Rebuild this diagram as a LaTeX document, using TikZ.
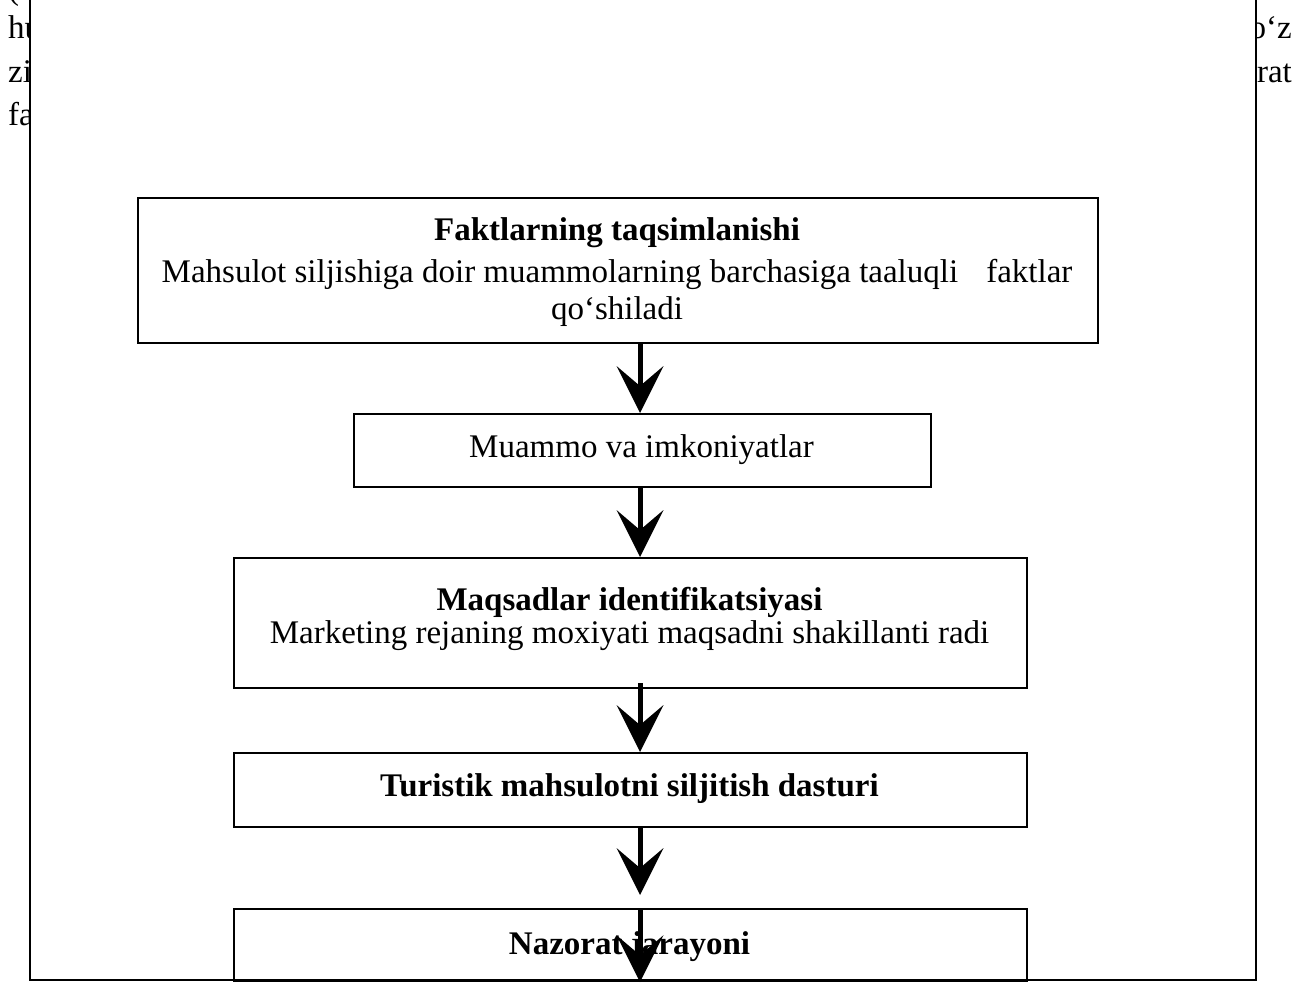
\documentclass[tikz,border=0pt]{standalone}
\usepackage{fontspec}
\setmainfont{Liberation Serif}
\usetikzlibrary{arrows.meta}
\begin{document}
\begin{tikzpicture}[x=1pt,y=-1pt,
  txt/.style={font=\fontsize{33}{38}\selectfont, inner sep=0pt, anchor=base},
  bold/.style={txt, font=\fontsize{33}{38}\selectfont\bfseries},
  stepbox/.style={draw, line width=2.2pt, inner sep=0pt, anchor=north west},
  flow/.style={line width=5pt,
    -{Stealth[length=47pt,width=47pt,inset=20pt,line width=0pt]}}]

\useasboundingbox (0,0) rectangle (1308,982);
\clip (0,0) rectangle (1308,982);

% running page text showing at both sides of the frame
\node[txt, anchor=base west] (p0) at (8,0) {(};
\node[txt, anchor=base west] (p1) at (8,39) {hu};
\node[txt, anchor=base west] (p2) at (8,82) {zi};
\node[txt, anchor=base west] (p3) at (8,125) {fa};
\node[txt, anchor=base east] (q1) at (1292,39) {o‘z};
\node[txt, anchor=base east] (q2) at (1292,82) {rat};

% white frame of the figure
\draw[line width=2.2pt, fill=white] (30,-20) rectangle (1256,980);

% boxes
\node[stepbox, minimum width=960pt, minimum height=145pt] (b1) at (137,197) {};
\node[stepbox, minimum width=577pt, minimum height=73pt]  (b2) at (353,413) {};
\node[stepbox, minimum width=793pt, minimum height=130pt] (b3) at (233,557) {};
\node[stepbox, minimum width=793pt, minimum height=74pt]  (b4) at (233,752) {};
\node[stepbox, minimum width=793pt, minimum height=72pt]  (b5) at (233,908) {};

% box texts
\node[bold] (t1)  at (617,240) {Faktlarning taqsimlanishi};
\node[txt]  (t1b) at (617,282) {Mahsulot siljishiga doir muammolarning barchasiga taaluqli\hspace{0.6em} faktlar};
\node[txt]  (t1c) at (617,319) {qo‘shiladi};
\node[txt]  (t2)  at (641.5,457) {Muammo va imkoniyatlar};
\node[bold] (t3)  at (629.5,610) {Maqsadlar identifikatsiyasi};
\node[txt]  (t3b) at (629.5,643) {Marketing rejaning moxiyati maqsadni shakillanti radi};
\node[bold] (t4)  at (629.5,796) {Turistik mahsulotni siljitish dasturi};
\node[bold] (t5)  at (629.5,954) {Nazorat jarayoni};

% connectors
\coordinate (ax) at (640,0);
\coordinate (s3) at ([yshift=6pt]b3.south);
\draw[flow] (b1.south -| ax) -- (b2.north -| ax);
\draw[flow] (b2.south -| ax) -- (b3.north -| ax);
\draw[flow] (s3 -| ax) -- (b4.north -| ax);
\draw[flow, shorten >=13pt] (b4.south -| ax) -- (b5.north -| ax);
\draw[flow] (b5.north -| ax) -- (b5.south -| ax);
\end{tikzpicture}
\end{document}
